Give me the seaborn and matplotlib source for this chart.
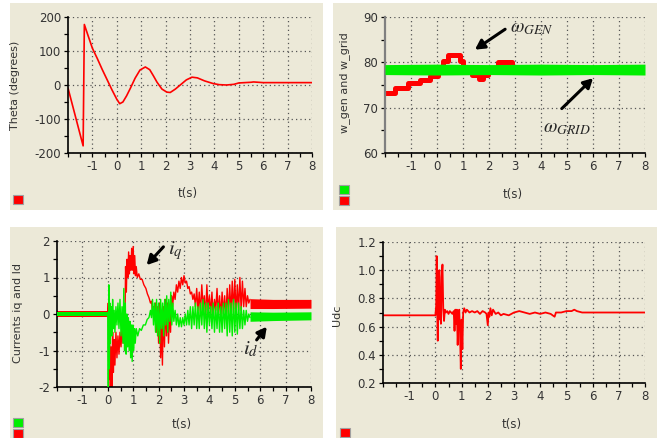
import matplotlib
matplotlib.use('Agg')
import matplotlib.pyplot as plt
import seaborn as sns
import pandas as pd
import numpy as np
from matplotlib.patches import Rectangle

sns.set_style('white')
plt.rcParams['font.family'] = ['DejaVu Sans']
plt.rcParams['axes.unicode_minus'] = False
plt.rcParams['mathtext.fontset'] = 'stix'

W, H = 662, 438
BEIGE = '#ECE9D8'
RED = '#FF0000'
GREEN = '#00EE00'

# ---- panel 1: rotor angle
theta_t = [-2.0, -1.38, -1.355, -1.33, -1.2, -1.0, -0.8, -0.6, -0.4, -0.2, 0.0, 0.12, 0.25,
           0.4, 0.56, 0.75, 0.95, 1.17, 1.35, 1.5, 1.65, 1.85, 2.05, 2.19, 2.4, 2.6, 2.85,
           3.08, 3.3, 3.6, 3.96, 4.2, 4.5, 4.8, 5.0, 5.5, 5.6, 6.0, 7.0, 8.0]
theta = [-9, -179, 0, 178, 150, 108, 78, 46, 16, -14, -42, -55, -50,
         -32, -9, 20, 44, 53, 45, 27, 8, -12, -21, -22, -12, 0, 15,
         23, 21, 12, 4, 1, 0, 2, 6, 8, 9, 7, 7, 7]

# ---- panel 2: generator / grid speed
gen_t = [-2.0, -1.62, -1.1, -0.65, -0.27, 0.04, 0.23, 0.42, 0.88, 1.0, 1.33, 1.6, 1.75,
         1.97, 2.33, 2.9, 8.0]
gen_w = [73.3, 74.3, 75.4, 76.1, 77.0, 78.2, 80.3, 81.6, 80.3, 78.3, 77.1, 76.3, 77.1,
         78.3, 80.1, 78.3, 78.3]
grid_t = [-2.0, 0.0, 2.0, 4.0, 6.0, 8.0]
grid_lo = [77.3, 77.2, 77.3, 77.2, 77.3, 77.2]
grid_hi = [79.5, 79.6, 79.5, 79.6, 79.5, 79.6]

# ---- panel 3: currents
band_t_pre = [-2.0, 0.0]
iq_pre_lo, iq_pre_hi = [-0.08, -0.08], [0.08, 0.08]
id_pre_lo, id_pre_hi = [-0.06, -0.06], [0.05, 0.05]
band_t_post = [5.6, 6.5, 8.0]
iq_post_lo, iq_post_hi = [0.15, 0.15, 0.16], [0.42, 0.4, 0.4]
id_post_lo, id_post_hi = [-0.2, -0.18, -0.16], [0.06, 0.05, 0.06]

iq_t = [0.0, 0.02, 0.04, 0.07, 0.10, 0.13, 0.16, 0.19, 0.22, 0.25, 0.28, 0.32, 0.36, 0.40,
        0.44, 0.48, 0.52, 0.56, 0.60, 0.64, 0.67, 0.70, 0.73, 0.76, 0.79, 0.82, 0.85, 0.88,
        0.91, 0.94, 0.97, 1.00, 1.03, 1.06, 1.09, 1.12, 1.16, 1.22, 1.28, 1.35, 1.42, 1.50,
        1.56, 1.62, 1.68, 1.72, 1.76, 1.80, 1.84, 1.88, 1.92, 1.96, 2.00, 2.04, 2.08, 2.12,
        2.15, 2.19, 2.23, 2.27, 2.31, 2.35, 2.39, 2.43, 2.47, 2.51, 2.55, 2.60, 2.65, 2.70,
        2.75, 2.80, 2.85, 2.90, 2.95, 3.00, 3.05, 3.10, 3.15, 3.20, 3.25, 3.30, 3.35, 3.40,
        3.45, 3.50, 3.55, 3.60, 3.65, 3.70, 3.75, 3.80, 3.85, 3.90, 3.95, 4.00, 4.05, 4.10,
        4.15, 4.20, 4.25, 4.30, 4.35, 4.40, 4.45, 4.50, 4.55, 4.60, 4.65, 4.70, 4.75, 4.80,
        4.85, 4.90, 4.95, 5.00, 5.05, 5.10, 5.15, 5.20, 5.25, 5.30, 5.35, 5.40, 5.45, 5.50,
        5.55, 5.60]
iq = [0.0, 0.3, -1.8, -0.6, -2.0, -0.9, -2.0, -0.5, -1.6, -0.7, -1.4, -0.5, -1.2, -0.6,
      -1.1, -0.5, -0.9, -0.4, -0.8, 0.2, -0.5, 1.3, 0.6, 1.5, 1.0, 1.7, 1.1, 1.6,
      1.2, 1.8, 1.2, 1.85, 1.1, 1.6, 1.05, 1.3, 1.0, 1.1, 0.95, 0.95, 0.8, 0.7,
      0.55, 0.45, 0.3, 0.35, 0.1, 0.2, -0.1, 0.3, -0.5, 0.2, -0.8, 0.3, -1.2, -0.2,
      -1.4, 0.2, -0.9, 0.4, -0.6, 0.3, -0.8, 0.1, -0.5, 0.5, 0.2, 0.6, 0.4, 0.8,
      0.6, 0.9, 0.7, 1.0, 0.8, 1.05, 0.85, 0.9, 0.7, 0.75, 0.55, 0.6, 0.4, 0.55,
      0.2, 0.7, 0.1, 0.6, 0.0, 0.8, 0.2, 0.5, -0.1, 0.8, 0.1, 0.5, 0.0, 0.6,
      -0.1, 0.4, 0.1, 0.7, 0.0, 0.5, -0.1, 0.6, 0.0, 0.5, -0.1, 0.7, 0.0, 0.8,
      0.0, 0.9, 0.05, 0.95, 0.0, 0.8, 0.1, 1.0, 0.1, 0.9, 0.2, 0.7, 0.2, 0.5,
      0.3, 0.4]

id_t = [0.0, 0.02, 0.04, 0.06, 0.08, 0.10, 0.13, 0.16, 0.19, 0.22, 0.25, 0.28, 0.32, 0.36,
        0.40, 0.44, 0.48, 0.52, 0.56, 0.60, 0.63, 0.66, 0.69, 0.72, 0.75, 0.78, 0.81, 0.84,
        0.87, 0.90, 0.93, 0.96, 0.99, 1.02, 1.05, 1.08, 1.12, 1.18, 1.25, 1.32, 1.40, 1.48,
        1.55, 1.62, 1.68, 1.72, 1.76, 1.80, 1.84, 1.88, 1.92, 1.96, 2.00, 2.04, 2.08, 2.12,
        2.16, 2.20, 2.24, 2.28, 2.32, 2.36, 2.40, 2.44, 2.48, 2.52, 2.56, 2.60, 2.65, 2.70,
        2.75, 2.80, 2.85, 2.90, 2.95, 3.00, 3.05, 3.10, 3.15, 3.20, 3.25, 3.30, 3.35, 3.40,
        3.45, 3.50, 3.55, 3.60, 3.65, 3.70, 3.75, 3.80, 3.85, 3.90, 3.95, 4.00, 4.05, 4.10,
        4.15, 4.20, 4.25, 4.30, 4.35, 4.40, 4.45, 4.50, 4.55, 4.60, 4.65, 4.70, 4.75, 4.80,
        4.85, 4.90, 4.95, 5.00, 5.05, 5.10, 5.15, 5.20, 5.25, 5.30, 5.35, 5.40, 5.45, 5.50,
        5.55, 5.60]
id_ = [0.0, -2.0, 0.8, -1.5, 0.3, -0.8, 0.2, -0.6, 0.4, -0.4, 0.1, -0.5, 0.2, -0.3,
       0.3, -0.4, 0.4, -0.6, 0.2, -0.8, 0.7, -1.0, 0.3, -1.1, 0.0, -0.9, -0.1, -1.0,
       -0.2, -1.2, -0.3, -1.3, -0.3, -1.0, -0.4, -0.8, -0.4, -0.6, -0.4, -0.45, -0.3, -0.3,
       -0.15, -0.1, 0.1, -0.1, 0.4, -0.3, 0.3, -0.5, 0.4, -0.6, 0.3, -0.8, 0.4, -0.4,
       0.3, -0.6, 0.4, -0.3, 0.5, -0.5, 0.4, -0.2, 0.6, -0.3, 0.3, -0.2, 0.1, -0.3,
       0.0, -0.35, -0.1, -0.35, -0.1, -0.3, 0.0, -0.3, 0.1, -0.3, 0.2, -0.4, 0.2, -0.3,
       0.3, -0.4, 0.2, -0.4, 0.3, -0.3, 0.4, -0.4, 0.3, -0.5, 0.3, -0.3, 0.2, -0.4,
       0.3, -0.5, 0.2, -0.4, 0.3, -0.5, 0.2, -0.5, 0.3, -0.4, 0.3, -0.6, 0.4, -0.5,
       0.3, -0.6, 0.4, -0.5, 0.3, -0.55, 0.3, -0.4, 0.2, -0.4, 0.1, -0.3, 0.1, -0.2,
       0.0, -0.1]

# ---- panel 4: DC link voltage
udc_t = [-2.0, 0.0, 0.03, 0.05, 0.07, 0.09, 0.11, 0.13, 0.15, 0.18, 0.21, 0.24, 0.27, 0.30,
         0.33, 0.36, 0.40, 0.45, 0.50, 0.55, 0.60, 0.65, 0.70, 0.73, 0.76, 0.79, 0.82, 0.85,
         0.88, 0.91, 0.94, 0.97, 1.00, 1.03, 1.06, 1.10, 1.15, 1.20, 1.30, 1.40, 1.50, 1.60,
         1.70, 1.80, 1.90, 1.95, 2.00, 2.03, 2.06, 2.10, 2.15, 2.20, 2.30, 2.40, 2.50, 2.60,
         2.80, 3.00, 3.20, 3.40, 3.60, 3.80, 4.00, 4.20, 4.40, 4.55, 4.60, 4.80, 5.00, 5.20,
         5.30, 5.40, 5.60, 6.00, 7.00, 8.00]
udc = [0.68, 0.68, 0.75, 1.10, 0.70, 0.50, 0.90, 0.65, 1.00, 0.72, 0.62, 0.95, 1.04, 0.72,
       0.64, 0.72, 0.70, 0.71, 0.69, 0.71, 0.70, 0.69, 0.71, 0.57, 0.72, 0.62, 0.72, 0.47,
       0.66, 0.72, 0.55, 0.30, 0.65, 0.44, 0.70, 0.73, 0.70, 0.72, 0.70, 0.71, 0.70, 0.71,
       0.69, 0.71, 0.70, 0.69, 0.61, 0.70, 0.67, 0.73, 0.68, 0.72, 0.69, 0.70, 0.68, 0.69,
       0.68, 0.70, 0.71, 0.70, 0.69, 0.70, 0.69, 0.70, 0.69, 0.67, 0.70, 0.70, 0.71, 0.71,
       0.72, 0.71, 0.70, 0.70, 0.70, 0.70]

fig = plt.figure(figsize=(W / 100, H / 100), dpi=100)
fig.patch.set_facecolor('white')


def px_rect(l, t, r, b, **kw):
    fig.patches.append(Rectangle((l / W, 1 - b / H), (r - l) / W, (b - t) / H,
                                 transform=fig.transFigure, **kw))


def px_axes(l, t, r, b):
    ax = fig.add_axes([l / W, 1 - b / H, (r - l) / W, (b - t) / H])
    ax.set_zorder(1)
    return ax


# panel backgrounds
for rect in [(10, 3, 323, 210), (333, 3, 657, 210), (10, 227, 323, 438), (336, 227, 657, 438)]:
    px_rect(*rect, facecolor=BEIGE, edgecolor='none', zorder=-1)

# legend squares
squares = [(13, 195, RED), (339, 185, GREEN), (339, 196, RED),
           (13, 418, GREEN), (13, 429, RED), (340, 428, RED)]
for x0, y0, c in squares:
    px_rect(x0, y0, x0 + 10, y0 + 9, facecolor=c, edgecolor='#a0a0a0', lw=0.8, zorder=2)


def style_axes(ax, ylim, ymajor, yminor, ylabel, ylab_x, ylab_y, xlab_y):
    ax.set_facecolor(BEIGE)
    ax.set_xlim(-2, 8)
    ax.set_ylim(*ylim)
    ax.set_xticks(range(-1, 9))
    ax.set_xticks(np.arange(-2, 8.01, 0.5), minor=True)
    ax.set_yticks(ymajor)
    ax.set_yticks(yminor, minor=True)
    ax.grid(True, which='major', linestyle=(0, (1, 2.5)), linewidth=0.9, color='#555555')
    ax.set_axisbelow(True)
    for s in ['top', 'right']:
        ax.spines[s].set_visible(False)
    for s in ['left', 'bottom']:
        ax.spines[s].set_color('black')
        ax.spines[s].set_linewidth(1.2)
    ax.tick_params(which='both', direction='out', length=3, width=0.9, color='black',
                   labelsize=8.5, labelcolor='#333333', pad=2,
                   bottom=True, left=True)
    ax.set_xlabel('t(s)', fontsize=8.5, color='#333333')
    ax.set_ylabel(ylabel, fontsize=8, color='#333333')
    ax.yaxis.set_label_coords(ylab_x, ylab_y)
    ax.xaxis.set_label_coords(0.49, xlab_y)


# ---- panel 1
ax1 = px_axes(68, 17, 312, 153)
sns.lineplot(x=theta_t, y=theta, ax=ax1, color=RED, lw=1.2, sort=False, estimator=None)
style_axes(ax1, (-200, 200), [-200, -100, 0, 100, 200], np.arange(-200, 201, 50),
           'Theta (degrees)', -0.197, 0.5, -0.25)

# ---- panel 2
ax2 = px_axes(385, 17, 645, 153)
sns.lineplot(x=gen_t, y=gen_w, ax=ax2, color=RED, lw=3.6, drawstyle='steps-post',
             sort=False, estimator=None)
ax2.fill_between(grid_t, grid_lo, grid_hi, color=GREEN, lw=0, zorder=3)
style_axes(ax2, (60, 90), [60, 70, 80, 90], np.arange(60, 91, 5),
           'w_gen and w_grid', -0.135, 0.52, -0.257)
ax2.spines['left'].set_color('#808080')
ax2.spines['left'].set_linewidth(1.6)
arrow = dict(arrowstyle='-|>,head_length=0.55,head_width=0.3', lw=2.2, color='black',
             shrinkA=0, shrinkB=0)
ax2.annotate('', xy=(1.46, 82.8), xytext=(2.62, 87.3), arrowprops=arrow, zorder=5)
ax2.text(2.8, 87.6, r'$\omega_{GEN}$', fontsize=14, va='center', ha='left', zorder=5)
ax2.annotate('', xy=(6.0, 76.5), xytext=(4.8, 69.8), arrowprops=arrow, zorder=5)
ax2.text(5.0, 65.7, r'$\omega_{GRID}$', fontsize=14, va='center', ha='center', zorder=5)

# ---- panel 3
ax3 = px_axes(57, 241, 311, 387)
ax3.fill_between(band_t_pre, iq_pre_lo, iq_pre_hi, color=RED, lw=0)
ax3.fill_between(band_t_post, iq_post_lo, iq_post_hi, color=RED, lw=0)
sns.lineplot(x=iq_t, y=iq, ax=ax3, color=RED, lw=1.0, sort=False, estimator=None)
ax3.fill_between(band_t_pre, id_pre_lo, id_pre_hi, color=GREEN, lw=0, zorder=3)
ax3.fill_between(band_t_post, id_post_lo, id_post_hi, color=GREEN, lw=0, zorder=3)
sns.lineplot(x=id_t, y=id_, ax=ax3, color=GREEN, lw=1.0, sort=False, estimator=None, zorder=3)
style_axes(ax3, (-2, 2), [-2, -1, 0, 1, 2], np.arange(-2, 2.01, 0.5),
           'Currents iq and Id', -0.134, 0.51, -0.21)
ax3.annotate('', xy=(1.53, 1.34), xytext=(2.19, 1.84), arrowprops=arrow, zorder=5)
ax3.text(2.37, 1.75, r'$i_q$', fontsize=15, va='center', ha='left', zorder=5)
ax3.annotate('', xy=(6.26, -0.35), xytext=(5.86, -0.71), arrowprops=arrow, zorder=5)
ax3.text(5.32, -0.96, r'$i_d$', fontsize=15, va='center', ha='left', zorder=5)

# ---- panel 4
ax4 = px_axes(383, 242, 645, 383)
sns.lineplot(x=udc_t, y=udc, ax=ax4, color=RED, lw=1.3, sort=False, estimator=None)
style_axes(ax4, (0.2, 1.2), [0.2, 0.4, 0.6, 0.8, 1.0, 1.2], np.arange(0.2, 1.21, 0.1),
           'Udc', -0.157, 0.48, -0.25)
ax4.set_yticklabels(['0.2', '0.4', '0.6', '0.8', '1.0', '1.2'])

fig.savefig('out.png', dpi=100, facecolor='white')
